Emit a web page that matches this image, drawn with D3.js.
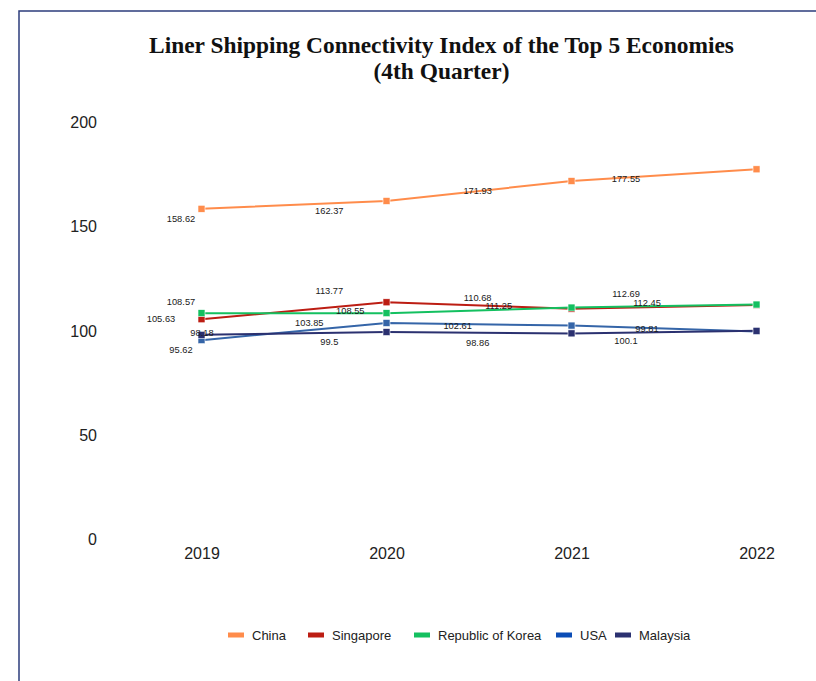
<!DOCTYPE html>
<html>
<head>
<meta charset="utf-8">
<script src="https://cdn.jsdelivr.net/npm/d3@7"></script>
<style>
  html, body { margin: 0; padding: 0; background: #fff; }
  svg { display: block; }
</style>
</head>
<body>
<svg id="chart" width="816" height="681"></svg>
<script>
// ---- data ----
const years = ["2019", "2020", "2021", "2022"];
const seriesNames = ["China", "Singapore", "Republic of Korea", "USA", "Malaysia"];
const china     = [158.62, 162.37, 171.93, 177.55];
const singapore = [105.63, 113.77, 110.68, 112.45];
const korea     = [108.57, 108.55, 111.25, 112.69];
const usa       = [95.62, 103.85, 102.61, 99.81];
const malaysia  = [98.18, 99.5, 98.86, 100.1];
const yTicks = [0, 50, 100, 150, 200];
const titleLines = ["Liner Shipping Connectivity Index of the Top 5 Economies", "(4th Quarter)"];

// ---- style / layout ----
const lineColors   = ["#FF8C4B", "#BC1D13", "#14C060", "#3565A8", "#2B3170"];
const legendColors = ["#FF8C4B", "#BC1D13", "#14C060", "#0B4DB6", "#2B3170"];
const labelPlacement = [
  ["below", "below", "below", "below"],
  ["left", "above", "above", "right"],
  ["above", "right", "right", "above"],
  ["below", "left", "left", "right"],
  ["right", "below", "below", "below"]
];
const placeOffset = {
  below: [0, 10], above: [0, -11], left: [-20, 0], right: [21, -2]
};
const legendX = [228, 308, 414, 556, 615];

const values = [china, singapore, korea, usa, malaysia];
const svg = d3.select("#chart");

svg.append("rect").attr("width", 816).attr("height", 681).attr("fill", "#fff");

// frame
svg.append("path")
  .attr("d", "M19,690 L19,11 L830,11")
  .attr("fill", "none")
  .attr("stroke", "#2C3C7C")
  .attr("stroke-width", 1.5);

// title
const tl = svg.append("g").selectAll("text").data(titleLines).join("text")
  .attr("x", 441.5)
  .attr("y", (d, i) => 53 + i * 26)
  .attr("text-anchor", "middle")
  .attr("font-family", "'Liberation Serif', 'DejaVu Serif', serif")
  .attr("font-weight", "bold")
  .attr("font-size", 22)
  .attr("fill", "#111")
  .text(d => d);
const w0 = tl.node().getComputedTextLength();
if (w0 > 0) tl.attr("font-size", 22 * 585 / w0);

// scales
const x = d3.scalePoint().domain(years).range([201.5, 756.5]);
const xl = d3.scalePoint().domain(years).range([181, 626]);
const y = d3.scaleLinear().domain([0, 200]).range([539.5, 122.5]);

// y axis labels
const yAxis = d3.axisLeft(y).tickValues(yTicks).tickSize(0).tickPadding(0);
svg.append("g").attr("transform", "translate(97,0)").call(yAxis)
  .call(g => g.select(".domain").remove())
  .call(g => g.selectAll("text")
    .attr("font-family", "'Liberation Sans', Arial, sans-serif")
    .attr("font-size", 16).attr("fill", "#222"));

// x axis labels
const xAxis = d3.axisBottom(x).tickSize(0).tickPadding(0);
svg.append("g").attr("transform", "translate(0,548)").call(xAxis)
  .call(g => g.select(".domain").remove())
  .call(g => g.selectAll("text")
    .attr("font-family", "'Liberation Sans', Arial, sans-serif")
    .attr("font-size", 16).attr("fill", "#222"));

// lines & markers
const line = d3.line().x((d, i) => x(years[i])).y(d => y(d));
values.forEach((vals, s) => {
  const g = svg.append("g");
  g.append("path").datum(vals)
    .attr("d", line)
    .attr("fill", "none")
    .attr("stroke", lineColors[s])
    .attr("stroke-width", 2);
  g.selectAll("rect").data(vals).join("rect")
    .attr("x", (d, i) => x(years[i]) - 3.5)
    .attr("y", d => y(d) - 3.5)
    .attr("width", 7).attr("height", 7)
    .attr("fill", lineColors[s])
    .attr("stroke", "#fff").attr("stroke-width", 0.6);
});

// data labels
values.forEach((vals, s) => {
  svg.append("g").selectAll("text").data(vals).join("text")
    .attr("x", (d, i) => xl(years[i]) + placeOffset[labelPlacement[s][i]][0])
    .attr("y", (d, i) => y(d) + placeOffset[labelPlacement[s][i]][1])
    .attr("text-anchor", "middle")
    .attr("dominant-baseline", "central")
    .attr("font-family", "'Liberation Sans', Arial, sans-serif")
    .attr("font-size", 9.3)
    .attr("fill", "#1a1a1a")
    .text(d => d);
});

// legend
const lg = svg.append("g").selectAll("g").data(seriesNames).join("g")
  .attr("transform", (d, i) => `translate(${legendX[i]},635)`);
lg.append("rect").attr("x", 0).attr("y", -2.5).attr("width", 16).attr("height", 5)
  .attr("fill", (d, i) => legendColors[i]);
lg.append("text").attr("x", 24).attr("y", 0)
  .attr("dominant-baseline", "central")
  .attr("font-family", "'Liberation Sans', Arial, sans-serif")
  .attr("font-size", 13).attr("fill", "#222")
  .text(d => d);
</script>
</body>
</html>
